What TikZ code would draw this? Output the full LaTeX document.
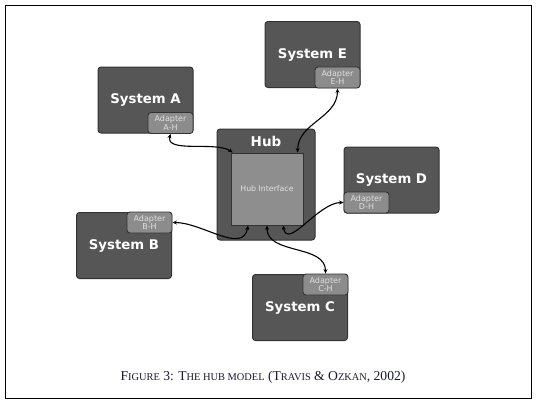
\documentclass[tikz,border=0pt]{standalone}
\usepackage{fontspec}
\setmainfont{Liberation Serif}
\newfontfamily\diag{DejaVu Sans}
\usetikzlibrary{arrows.meta,calc}
\definecolor{sysfill}{HTML}{565656}
\definecolor{sysedge}{HTML}{333333}
\definecolor{adfill}{HTML}{8C8C8C}
\definecolor{iffill}{HTML}{8E8E8E}
\definecolor{captc}{HTML}{1A1A2E}
\tikzset{
  sysbox/.style={draw=sysedge, line width=1pt, fill=sysfill, rounded corners=3pt,
    minimum width=95pt, minimum height=66pt, inner sep=0pt,
    text=white, font=\diag\bfseries\fontsize{13.3}{15}\selectfont},
  adbox/.style={draw=sysedge, line width=0.9pt, fill=adfill, rounded corners=3pt,
    minimum width=45pt, minimum height=21pt, inner sep=0pt, align=center,
    text=black!12, font=\diag\fontsize{8}{8.6}\selectfont},
  link/.style={line width=1.1pt, black, {Stealth[length=4.5pt,width=4pt]}-{Stealth[length=4.5pt,width=4pt]}},
}
\begin{document}
\begin{tikzpicture}[x=1pt,y=-1pt]
\useasboundingbox (0,0) rectangle (537,405);
\node[draw=black, line width=0.8pt, minimum width=526pt, minimum height=393pt, inner sep=0pt] (frame) at (268,201.5) {};
% hub
\node[draw=sysedge, line width=1pt, fill=sysfill, rounded corners=3pt, minimum width=98pt, minimum height=111pt, inner sep=0pt] (hub) at (266,184.5) {};
\node[text=white, font=\diag\bfseries\fontsize{13.5}{15}\selectfont] (hublbl) at (266,141.5) {Hub};
\node[draw=sysedge, line width=1pt, fill=iffill, minimum width=72pt, minimum height=72pt, inner sep=0pt, text=black!12, font=\diag\fontsize{7.8}{9}\selectfont] (hubif) at (267,189) {Hub Interface};
% systems
\node[sysbox] (sysA) at (145.5,100) {System A};
\node[adbox] (adA) at (170.5,123) {Adapter\\A-H};
\node[sysbox] (sysE) at (312.5,54.5) {System E};
\node[adbox] (adE) at (337.5,77.5) {Adapter\\E-H};
\node[sysbox] (sysD) at (391.5,180) {\raisebox{-4pt}{System D}};
\node[adbox] (adD) at (366.5,202.5) {Adapter\\D-H};
\node[sysbox] (sysB) at (124,245.5) {System B};
\node[adbox] (adB) at (149.5,222.5) {Adapter\\B-H};
\node[sysbox] (sysC) at (300,307.5) {\raisebox{-2pt}{System C}};
\node[adbox] (adC) at (325.5,284.5) {Adapter\\C-H};
% connectors
\coordinate (ifA) at ($(hubif.north west)!0.03!(hubif.north east)$);
\coordinate (ifE) at ($(hubif.north west)!0.92!(hubif.north east)$);
\coordinate (ifB) at ($(hubif.south west)!0.24!(hubif.south east)$);
\coordinate (ifC) at ($(hubif.south west)!0.5!(hubif.south east)$);
\coordinate (ifD) at ($(hubif.south west)!0.72!(hubif.south east)$);
\draw[link] (adA.south) to[out=-105,in=145,looseness=0.8] (ifA);
\draw[link] (adE.south) to[out=-90,in=90] (ifE);
\draw[link] (adB.east) to[out=0,in=-100] (ifB);
\draw[link] (ifC) to[out=-90,in=90] (adC.north);
\draw[link] (ifD) to[out=-80,in=180] (adD.west);
% caption
\node[text=captc, font=\fontsize{13.6}{15}\selectfont] (cap) at (263,377)
  {F{\fontsize{10.4}{12}\selectfont IGURE} 3: T{\fontsize{10.4}{12}\selectfont HE HUB MODEL} (T{\fontsize{10.4}{12}\selectfont RAVIS} \& O{\fontsize{10.4}{12}\selectfont ZKAN}, 2002)};
\end{tikzpicture}
\end{document}
